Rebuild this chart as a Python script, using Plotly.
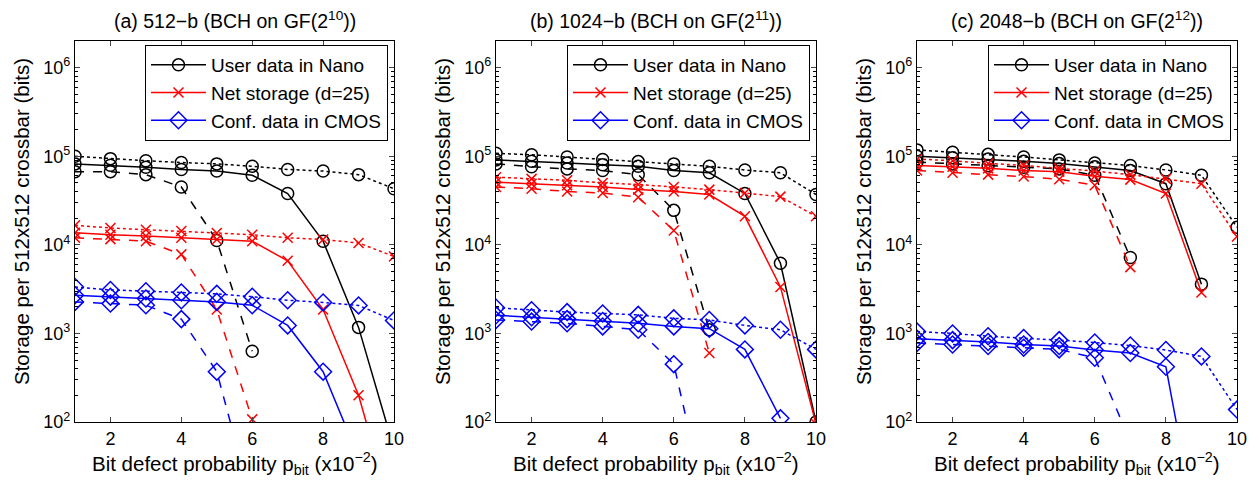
import plotly.graph_objects as go

x = list(range(1, 11))

# ---------- panel (a) 512-b ----------
a_user_dot = [1.0e5, 9.4e4, 8.9e4, 8.5e4, 8.2e4, 7.7e4, 7.1e4, 6.8e4, 6.2e4, 4.3e4]
a_user_sol = [8.2e4, 7.9e4, 7.5e4, 7.1e4, 6.8e4, 6.1e4, 3.8e4, 1.1e4, 1.17e3, 50]
a_user_das = [6.7e4, 6.7e4, 6.2e4, 4.5e4, 1.12e4, 630, None, None, None, None]
a_net_dot = [1.66e4, 1.55e4, 1.48e4, 1.43e4, 1.36e4, 1.3e4, 1.2e4, 1.15e4, 1.05e4, 7.4e3]
a_net_sol = [1.37e4, 1.3e4, 1.26e4, 1.2e4, 1.15e4, 1.1e4, 6.6e3, 1.86e3, 200, 8]
a_net_das = [1.2e4, 1.16e4, 1.1e4, 7.8e3, 1.86e3, 107, None, None, None, None]
a_cmos_dot = [3.35e3, 3.1e3, 3.0e3, 2.9e3, 2.8e3, 2.6e3, 2.37e3, 2.24e3, 2.07e3, 1.4e3]
a_cmos_sol = [2.7e3, 2.6e3, 2.48e3, 2.37e3, 2.27e3, 2.08e3, 1.23e3, 370, 40, None]
a_cmos_das = [2.27e3, 2.17e3, 2.08e3, 1.45e3, 370, 12, None, None, None, None]

# ---------- panel (b) 1024-b ----------
b_user_dot = [1.08e5, 1.04e5, 9.8e4, 9.2e4, 8.7e4, 8.2e4, 7.7e4, 7.0e4, 6.5e4, 3.7e4]
b_user_sol = [9.1e4, 8.8e4, 8.4e4, 8.0e4, 7.7e4, 6.9e4, 6.5e4, 3.8e4, 6.2e3, 100]
b_user_das = [8.2e4, 7.6e4, 7.2e4, 6.9e4, 6.2e4, 2.45e4, 1.1e3, None, None, None]
b_net_dot = [5.8e4, 5.55e4, 5.35e4, 5.0e4, 4.8e4, 4.5e4, 4.2e4, 3.84e4, 3.5e4, 2.1e4]
b_net_sol = [5.1e4, 4.9e4, 4.7e4, 4.5e4, 4.2e4, 4.0e4, 3.7e4, 2.1e4, 3.35e3, 95]
b_net_das = [4.5e4, 4.3e4, 4.0e4, 3.85e4, 3.45e4, 1.45e4, 600, None, None, None]
b_cmos_dot = [1.95e3, 1.83e3, 1.74e3, 1.68e3, 1.62e3, 1.48e3, 1.42e3, 1.23e3, 1.1e3, 660]
b_cmos_sol = [1.6e3, 1.52e3, 1.45e3, 1.38e3, 1.3e3, 1.2e3, 1.13e3, 660, 110, None]
b_cmos_das = [1.42e3, 1.36e3, 1.3e3, 1.2e3, 1.1e3, 450, 8, None, None, None]

# ---------- panel (c) 2048-b ----------
c_user_dot = [1.18e5, 1.11e5, 1.05e5, 9.8e4, 9.1e4, 8.4e4, 7.85e4, 7.0e4, 6.1e4, 1.58e4]
c_user_sol = [1.0e5, 9.6e4, 9.3e4, 8.8e4, 8.3e4, 7.6e4, 6.9e4, 4.9e4, 3.6e3, None]
c_user_das = [8.6e4, 8.2e4, 7.8e4, 7.5e4, 7.2e4, 6.1e4, 7.2e3, None, None, None]
c_net_dot = [9.3e4, 8.9e4, 8.3e4, 7.9e4, 7.3e4, 6.8e4, 6.2e4, 5.55e4, 4.9e4, 1.24e4]
c_net_sol = [7.85e4, 7.6e4, 7.3e4, 6.9e4, 6.7e4, 5.95e4, 5.45e4, 3.8e4, 2.9e3, None]
c_net_das = [6.9e4, 6.5e4, 6.2e4, 5.9e4, 5.5e4, 4.7e4, 5.6e3, None, None, None]
c_cmos_dot = [1.05e3, 1.0e3, 930, 890, 840, 790, 730, 650, 550, 138]
c_cmos_sol = [870, 840, 800, 750, 720, 650, 600, 420, 3, None]
c_cmos_das = [780, 750, 720, 690, 660, 530, 60, None, None, None]

titles = ["(a) 512\u2212b (BCH on GF(2<sup>10</sup>))",
          "(b) 1024\u2212b (BCH on GF(2<sup>11</sup>))",
          "(c) 2048\u2212b (BCH on GF(2<sup>12</sup>))"]
series_names = ["User data in Nano", "Net storage (d=25)", "Conf. data in CMOS"]
ytick_vals = [1e2, 1e3, 1e4, 1e5, 1e6]
ytick_text = ["10<sup>2</sup>", "10<sup>3</sup>", "10<sup>4</sup>", "10<sup>5</sup>", "10<sup>6</sup>"]
xtick_vals = [2, 4, 6, 8, 10]
xlabel = "Bit defect probability p<sub>bit</sub> (x10<sup>\u22122</sup>)"
ylabel = "Storage per 512x512 crossbar (bits)"

panels = [
    [(a_user_dot, a_user_sol, a_user_das), (a_net_dot, a_net_sol, a_net_das), (a_cmos_dot, a_cmos_sol, a_cmos_das)],
    [(b_user_dot, b_user_sol, b_user_das), (b_net_dot, b_net_sol, b_net_das), (b_cmos_dot, b_cmos_sol, b_cmos_das)],
    [(c_user_dot, c_user_sol, c_user_das), (c_net_dot, c_net_sol, c_net_das), (c_cmos_dot, c_cmos_sol, c_cmos_das)],
]

colors = ["#000000", "#ff0000", "#0000ff"]
symbols = ["circle-open", "x-thin-open", "diamond-open"]
msizes = [12, 10, 13]

# page body has an 8px margin: figure is laid out in window px minus 8
OFF = 8
W, H = 1259 - OFF, 493 - OFF
FONT = "Liberation Sans"
xdom_px = [(75, 394), (496, 816), (917, 1237)]
ytop_px, ybot_px = 41, 422


def fx(px):
    return (px - OFF) / W


def fy(py):
    return 1 - (py - OFF) / H


fig = go.Figure()

for p, groups in enumerate(panels):
    xa = "x" if p == 0 else f"x{p+1}"
    ya = "y" if p == 0 else f"y{p+1}"
    leg = "legend" if p == 0 else f"legend{p+1}"
    for s, (dot, sol, das) in enumerate(groups):
        for vals, dash, show in ((dot, "dot", False), (das, "dash", False), (sol, "solid", True)):
            fig.add_trace(go.Scatter(
                x=x, y=vals, xaxis=xa, yaxis=ya, legend=leg,
                mode="lines+markers", name=series_names[s], showlegend=show,
                connectgaps=False,
                line=dict(color=colors[s], width=1.5, dash=dash),
                marker=dict(symbol=symbols[s], size=msizes[s], color=colors[s],
                            line=dict(color=colors[s], width=1.5)),
                cliponaxis=True,
            ))

layout = dict(
    width=W, height=H,
    margin=dict(l=0, r=0, t=0, b=0),
    paper_bgcolor="white", plot_bgcolor="white",
    font=dict(family=FONT, size=18, color="black"),
    showlegend=True,
)

minor_vals = []
for d in range(2, 7):
    for m in range(2, 10):
        v = m * 10 ** d
        if v <= 2e6:
            minor_vals.append(v)

annotations = []
for p in range(3):
    sfx = "" if p == 0 else str(p + 1)
    x0, x1 = xdom_px[p]
    layout["xaxis" + sfx] = dict(
        domain=[fx(x0), fx(x1)], anchor="y" + sfx, range=[1, 10],
        tickvals=xtick_vals, ticks="inside", ticklen=5, tickwidth=1,
        showline=True, linecolor="black", linewidth=1.2, mirror="allticks",
        showgrid=False, zeroline=False, automargin=False,
        tickfont=dict(size=18, family=FONT, color="black"),
    )
    layout["yaxis" + sfx] = dict(
        domain=[fy(ybot_px), fy(ytop_px)], anchor="x" + sfx,
        type="log", range=[2, 6.301],
        tickvals=ytick_vals, ticktext=ytick_text,
        ticks="inside", ticklen=5, tickwidth=1,
        minor=dict(tickvals=minor_vals, ticks="inside", ticklen=3, tickcolor="black", showgrid=False),
        showline=True, linecolor="black", linewidth=1.2, mirror="allticks",
        showgrid=False, zeroline=False, automargin=False,
        tickfont=dict(size=18, family=FONT, color="black"),
    )
    legname = "legend" if p == 0 else f"legend{p+1}"
    layout[legname] = dict(
        x=fx(x1 - 6), y=fy(45), xanchor="right", yanchor="top",
        xref="paper", yref="paper",
        bgcolor="white", bordercolor="black", borderwidth=1,
        font=dict(size=19, family=FONT, color="black"),
        itemwidth=55, tracegroupgap=0,
    )
    annotations.append(dict(
        text=titles[p], x=fx((x0 + x1) / 2), y=fy(20), xref="paper", yref="paper",
        xanchor="center", yanchor="middle", showarrow=False,
        font=dict(size=19.5, family=FONT, color="black"),
    ))
    annotations.append(dict(
        text=xlabel, x=fx((x0 + x1) / 2), y=fy(463), xref="paper", yref="paper",
        xanchor="center", yanchor="middle", showarrow=False,
        font=dict(size=20.5, family=FONT, color="black"),
    ))
    annotations.append(dict(
        text=ylabel, x=fx(x0 - 54), y=fy(222), xref="paper", yref="paper",
        xanchor="center", yanchor="middle", showarrow=False, textangle=-90,
        font=dict(size=20.5, family=FONT, color="black"),
    ))

layout["annotations"] = annotations
fig.update_layout(**layout)
fig.write_html("out.html")
